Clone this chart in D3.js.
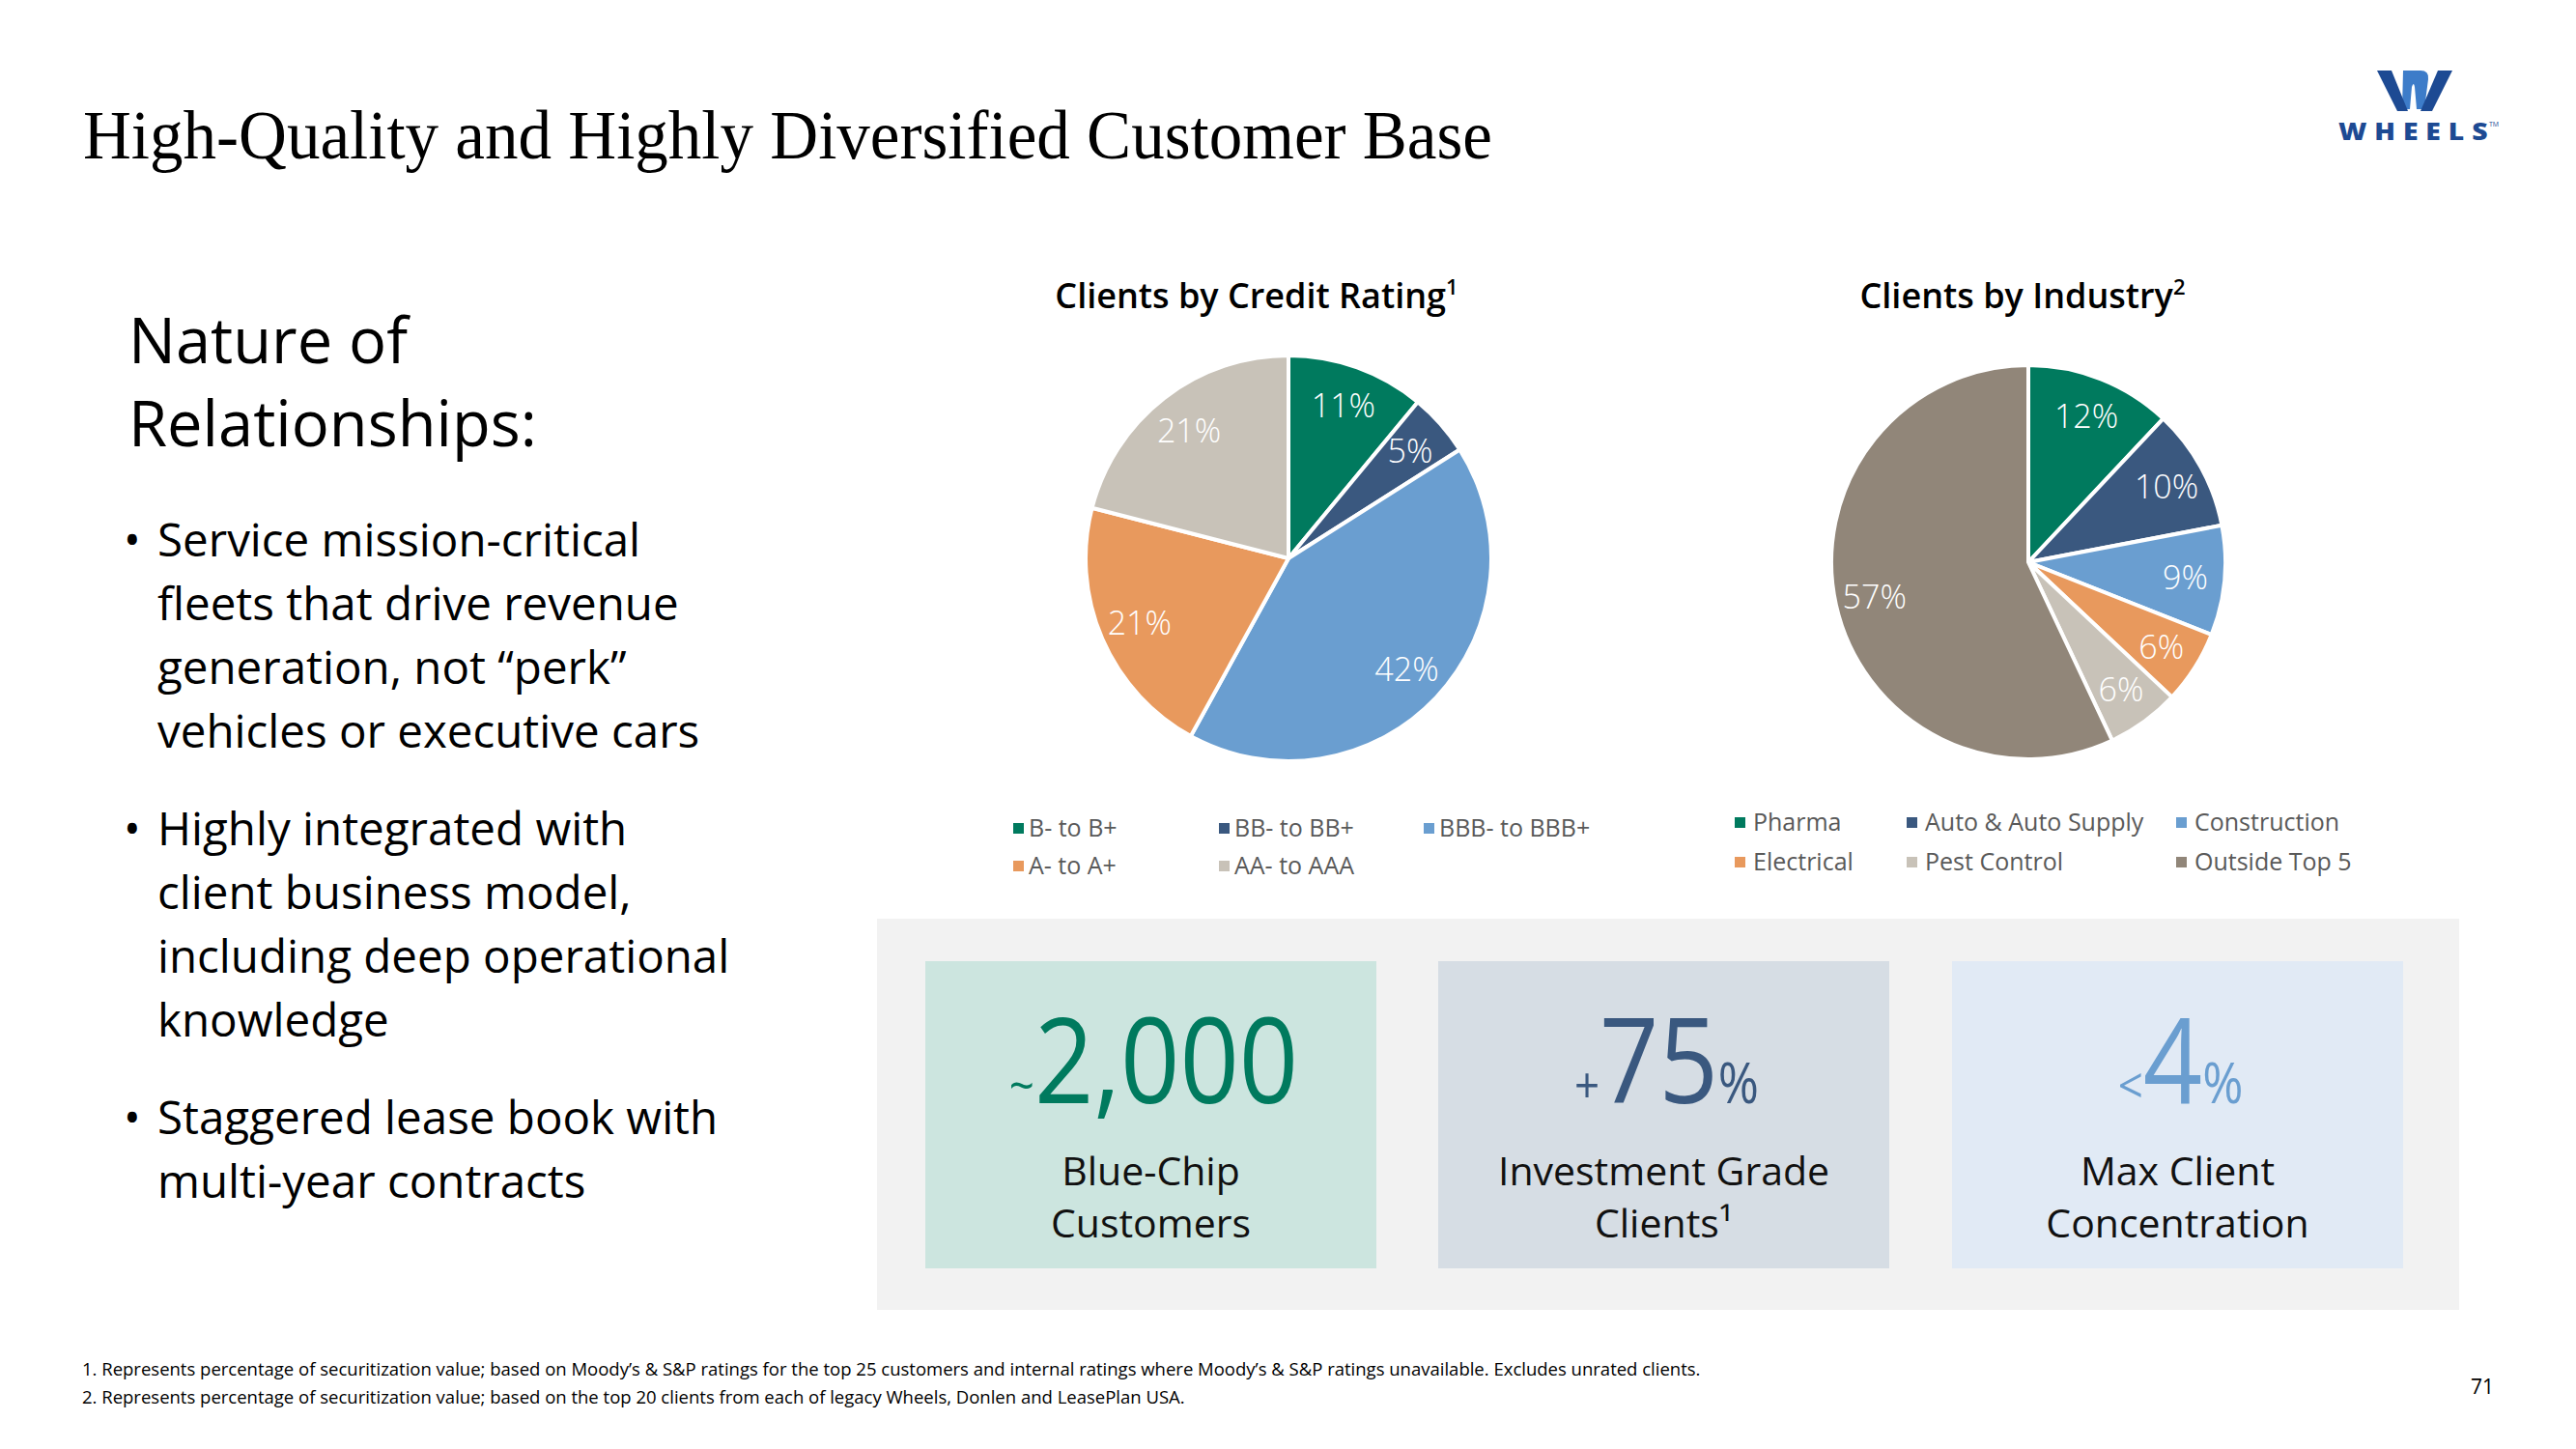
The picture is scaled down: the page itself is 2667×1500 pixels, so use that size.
<!DOCTYPE html>
<html>
<head>
<meta charset="utf-8">
<script src="https://cdn.jsdelivr.net/npm/d3@7"></script>
<style>
  html, body { margin: 0; padding: 0; background: #ffffff; }
  svg { display: block; }
</style>
</head>
<body>
<svg id="chart" width="2667" height="1500"></svg>
<script>
// ---------------- DATA ----------------
const pageTitle = "High-Quality and Highly Diversified Customer Base";
const sideHeading = ["Nature of", "Relationships:"];
const bulletLines = [
  ["Service mission-critical", "fleets that drive revenue", "generation, not \u201cperk\u201d", "vehicles or executive cars"],
  ["Highly integrated with", "client business model,", "including deep operational", "knowledge"],
  ["Staggered lease book with", "multi-year contracts"]
];

const creditTitle = "Clients by Credit Rating";
const creditCategories = ["B- to B+", "BB- to BB+", "BBB- to BBB+", "A- to A+", "AA- to AAA"];
const creditValues = [11, 5, 42, 21, 21];
const creditColors = ["#007a5e", "#3a587f", "#6a9ed0", "#e8995d", "#c8c2b8"];

const industryTitle = "Clients by Industry";
const industryCategories = ["Pharma", "Auto & Auto Supply", "Construction", "Electrical", "Pest Control", "Outside Top 5"];
const industryValues = [12, 10, 9, 6, 6, 57];
const industryColors = ["#007a5e", "#3a587f", "#6a9ed0", "#e8995d", "#c8c2b8", "#918679"];

const statPrefix = ["~", "+", "<"];
const statValue = ["2,000", "75", "4"];
const statSuffix = ["", "%", "%"];
const statLabels = [["Blue-Chip", "Customers"], ["Investment Grade", "Clients\u00b9"], ["Max Client", "Concentration"]];
const statColors = ["#007a5e", "#3a587f", "#6a9ed0"];
const statBoxColors = ["#cce5df", "#d6dde4", "#e1eaf5"];

const footnotes = [
  "1. Represents percentage of securitization value; based on Moody\u2019s & S&P ratings for the top 25 customers and internal ratings where Moody\u2019s & S&P ratings unavailable. Excludes unrated clients.",
  "2. Represents percentage of securitization value; based on the top 20 clients from each of legacy Wheels, Donlen and LeasePlan USA."
];
const pageNumber = "71";

// ---------------- DRAW ----------------
const svg = d3.select("#chart");
const SANS = "'Open Sans', 'Noto Sans', sans-serif";

// Title
svg.append("text")
  .attr("x", 86).attr("y", 164)
  .attr("font-family", "'Liberation Serif', serif")
  .attr("font-size", 72)
  .attr("textLength", 1459).attr("lengthAdjust", "spacingAndGlyphs")
  .attr("fill", "#000")
  .text(pageTitle);

// Logo
const logo = svg.append("g");
logo.append("path").attr("fill", "#3d7cc9")
  .attr("d", "M2488,73 L2506,73 Q2515,73 2514,82 L2510,113 L2502,113 L2500,90 Q2499,84 2497,90 L2495,113 L2487,113 Z");
logo.append("path").attr("fill", "#1d4a93")
  .attr("d", "M2461,73 L2476,73 L2493,115 L2482,115 Z");
logo.append("path").attr("fill", "#1d4a93")
  .attr("d", "M2524,73 L2539,73 L2518,115 L2506,115 Z");
logo.append("text").attr("transform", "translate(2421,145) scale(1.18,1)")
  .attr("font-family", SANS).attr("font-weight", 800).attr("font-size", 24)
  .attr("textLength", 131).attr("lengthAdjust", "spacing")
  .attr("fill", "#1d4a93")
  .text("WHEELS");
svg.append("text").attr("x", 2577).attr("y", 131)
  .attr("font-family", SANS).attr("font-size", 7).attr("fill", "#1d4a93").text("TM");

// Side heading
svg.append("g").selectAll("text").data(sideHeading).join("text")
  .attr("x", 133).attr("y", (d, i) => 376 + i * 86)
  .attr("font-family", SANS).attr("font-size", 65).attr("fill", "#000")
  .text(d => d);

// Bullets
const bulletStarts = [576, 875, 1174];
bulletLines.forEach((lines, bi) => {
  const g = svg.append("g");
  g.append("text").attr("x", 128).attr("y", bulletStarts[bi])
    .attr("font-family", SANS).attr("font-size", 47).attr("fill", "#000").text("\u2022");
  g.selectAll("text.line").data(lines).join("text").attr("class", "line")
    .attr("x", 163).attr("y", (d, i) => bulletStarts[bi] + i * 66)
    .attr("font-family", SANS).attr("font-size", 47.5).attr("fill", "#000")
    .text(d => d);
});

// Pie helper
function drawPie(cfg) {
  const g = svg.append("g").attr("transform", `translate(${cfg.cx},${cfg.cy})`);
  const pie = d3.pie().sort(null).value(d => d);
  const arcs = pie(cfg.values);
  const arc = d3.arc().innerRadius(0).outerRadius(cfg.r);
  const labelArc = d3.arc().innerRadius(cfg.r * 0.8).outerRadius(cfg.r * 0.8);
  g.selectAll("path").data(arcs).join("path")
    .attr("d", arc)
    .attr("fill", (d, i) => cfg.colors[i])
    .attr("stroke", "#fff").attr("stroke-width", 4).attr("stroke-linejoin", "round");
  g.selectAll("text").data(arcs).join("text")
    .attr("transform", d => `translate(${labelArc.centroid(d)})`)
    .attr("text-anchor", "middle").attr("dy", "0.36em")
    .attr("font-family", SANS).attr("font-weight", 300).attr("font-size", 34)
    .attr("fill", "#fff")
    .text(d => d.data + "%");

  // title
  const t = svg.append("text").attr("x", cfg.titleX).attr("y", cfg.titleY)
    .attr("text-anchor", "middle")
    .attr("font-family", SANS).attr("font-weight", 600).attr("font-size", 36).attr("fill", "#000");
  t.append("tspan").text(cfg.title);
  t.append("tspan").attr("font-size", 22).attr("dy", -14).text(cfg.sup);

  // legend
  const lg = svg.append("g");
  cfg.categories.forEach((c, i) => {
    const col = i % 3, row = Math.floor(i / 3);
    const x = cfg.legendX[col], y = cfg.legendY[row];
    lg.append("rect").attr("x", x).attr("y", y - 14).attr("width", 11).attr("height", 11)
      .attr("fill", cfg.colors[i]);
    lg.append("text").attr("x", x + cfg.legendGap).attr("y", y)
      .attr("font-family", SANS).attr("font-size", 25).attr("fill", "#595959").text(c);
  });
}

drawPie({
  cx: 1334, cy: 578, r: 210,
  values: creditValues, colors: creditColors, categories: creditCategories,
  title: creditTitle, sup: "1", titleX: 1301, titleY: 319,
  legendX: [1049, 1262, 1474], legendY: [866, 905], legendGap: 16
});
drawPie({
  cx: 2100, cy: 582, r: 204,
  values: industryValues, colors: industryColors, categories: industryCategories,
  title: industryTitle, sup: "2", titleX: 2094, titleY: 319,
  legendX: [1796, 1974, 2253], legendY: [860, 901], legendGap: 19
});

// Stats panel
svg.append("rect").attr("x", 908).attr("y", 951).attr("width", 1638).attr("height", 405).attr("fill", "#f2f2f2");
const boxX = [958, 1489, 2021];
const boxW = 467, boxY = 995, boxH = 318;
statValue.forEach((v, i) => {
  const g = svg.append("g");
  g.append("rect").attr("x", boxX[i]).attr("y", boxY).attr("width", boxW).attr("height", boxH)
    .attr("fill", statBoxColors[i]);
  const cx = boxX[i] + boxW / 2;
  const t = g.append("text")
    .attr("transform", `translate(${cx + 3},1142) scale(0.88,1)`)
    .attr("text-anchor", "middle")
    .attr("font-family", SANS).attr("fill", statColors[i]);
  t.append("tspan").attr("font-size", 52).text(statPrefix[i]);
  t.append("tspan").attr("font-size", 122).text(v);
  if (statSuffix[i]) t.append("tspan").attr("font-size", 58).text(statSuffix[i]);
  g.selectAll("text.lab").data(statLabels[i]).join("text").attr("class", "lab")
    .attr("x", cx).attr("y", (d, j) => 1227 + j * 54)
    .attr("text-anchor", "middle")
    .attr("font-family", SANS).attr("font-size", 41).attr("fill", "#111")
    .text(d => d);
});

// Footnotes
svg.append("g").selectAll("text").data(footnotes).join("text")
  .attr("x", 85).attr("y", (d, i) => 1424 + i * 29)
  .attr("font-family", SANS).attr("font-size", 18.5).attr("fill", "#000")
  .text(d => d);
svg.append("text").attr("x", 2582).attr("y", 1443).attr("text-anchor", "end")
  .attr("font-family", SANS).attr("font-size", 21).attr("fill", "#000").text(pageNumber);
</script>
</body>
</html>
